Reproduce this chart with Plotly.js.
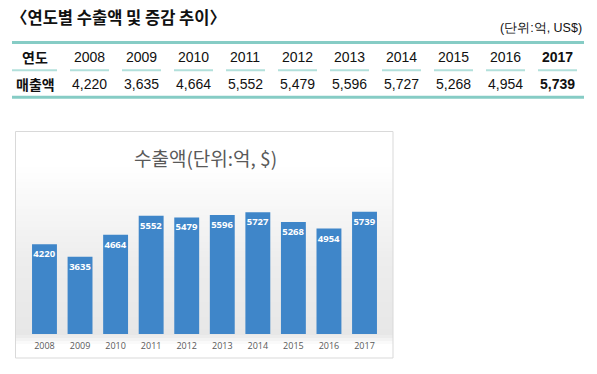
<!DOCTYPE html>
<html><head><meta charset="utf-8">
<script src="https://cdn.plot.ly/plotly-3.0.1.min.js"></script>
<style>html,body{margin:0;padding:0;background:#fff;}#chart{width:597px;height:374px;}</style>
</head><body><div id="chart"></div>
<script>
// ---- data ----
var years = ['2008','2009','2010','2011','2012','2013','2014','2015','2016','2017'];
var exportsVal = [4220, 3635, 4664, 5552, 5479, 5596, 5727, 5268, 4954, 5739];
var headerLabel = '연도';
var rowLabel = '매출액';
var pageTitle = '〈연도별 수출액 및 증감 추이〉';
var unitNote = '(단위:억, US$)';
var chartTitle = '수출액(단위:억, $)';

// ---- layout helpers (pixel -> paper) ----
var W = 597, H = 374;
function px(x){ return x / W; }
function py(y){ return 1 - y / H; }

var KR = '"Noto Sans CJK KR", "Noto Sans", sans-serif';
var NUM = '"Liberation Sans Narrow", "Liberation Sans", Arial, sans-serif';

var annotations = [];
var shapes = [];

// page title
annotations.push({xref:'paper', yref:'paper', x:px(9), y:py(17), xanchor:'left', yanchor:'middle',
  text:'<b>'+pageTitle+'</b>', showarrow:false, font:{family:KR, size:16.5, color:'#111'}});
annotations.push({xref:'paper', yref:'paper', x:px(584), y:py(28), xanchor:'right', yanchor:'middle',
  text:unitNote, showarrow:false, font:{family:NUM, size:12.5, color:'#111', stretch:'condensed'}});

// table
var hdrX = 35, firstX = 89, step = 52, row1Y = 57, row2Y = 84;
annotations.push({xref:'paper', yref:'paper', x:px(hdrX), y:py(row1Y), xanchor:'center', yanchor:'middle',
  text:'<b>'+headerLabel+'</b>', showarrow:false, font:{family:KR, size:14, color:'#111'}});
annotations.push({xref:'paper', yref:'paper', x:px(hdrX), y:py(row2Y), xanchor:'center', yanchor:'middle',
  text:'<b>'+rowLabel+'</b>', showarrow:false, font:{family:KR, size:14, color:'#111'}});
years.forEach(function(yr, i){
  var cx = firstX + step * i;
  var last = (i === years.length - 1);
  var v = exportsVal[i].toLocaleString('en-US');
  annotations.push({xref:'paper', yref:'paper', x:px(cx), y:py(row1Y), xanchor:'center', yanchor:'middle',
    text: last ? '<b>'+yr+'</b>' : yr, showarrow:false, font:{family:NUM, size:14, color:'#111', stretch:'condensed'}});
  annotations.push({xref:'paper', yref:'paper', x:px(cx), y:py(row2Y), xanchor:'center', yanchor:'middle',
    text: last ? '<b>'+v+'</b>' : v, showarrow:false, font:{family:NUM, size:14, color:'#111', stretch:'condensed'}});
  shapes.push({type:'line', xref:'paper', yref:'paper', x0:px(cx-19), x1:px(cx+20), y0:py(70.3), y1:py(70.3),
    line:{color:'#b2e0db', width:2}});
});
shapes.push({type:'line', xref:'paper', yref:'paper', x0:px(12), x1:px(57), y0:py(70.3), y1:py(70.3),
  line:{color:'#b2e0db', width:2}});
shapes.push({type:'line', xref:'paper', yref:'paper', x0:px(12), x1:px(584), y0:py(42.5), y1:py(42.5),
  line:{color:'#86ccc5', width:3}});
shapes.push({type:'line', xref:'paper', yref:'paper', x0:px(12), x1:px(584), y0:py(97.3), y1:py(97.3),
  line:{color:'#86ccc5', width:3}});

// chart box background: smooth vertical gradient built from thin bands
function shade(y){
  if (y < 165) return 255;
  if (y < 260) return Math.round(255 - (y - 165) / 95 * 18);
  if (y < 334) return Math.round(237 - (y - 260) / 74 * 6);
  if (y < 345) return Math.round(231 + (y - 334) / 11 * 24);
  return 255;
}
for (var yy = 131; yy < 358; yy += 3) {
  var g = shade(yy + 1.5);
  shapes.push({type:'rect', xref:'paper', yref:'paper', x0:px(15.5), x1:px(393), y0:py(Math.min(yy + 3, 358)), y1:py(yy),
    fillcolor:'rgb('+g+','+g+','+g+')', line:{width:0}, layer:'below'});
}
shapes.push({type:'rect', xref:'paper', yref:'paper', x0:px(15.5), x1:px(393), y0:py(358), y1:py(131.5),
  fillcolor:'rgba(0,0,0,0)', line:{color:'#d9d9d9', width:1}, layer:'above'});

annotations.push({xref:'paper', yref:'paper', x:px(205), y:py(157), xanchor:'center', yanchor:'middle',
  text:chartTitle, showarrow:false, font:{family:KR, size:19, color:'#595959'}});

var trace = {
  type:'bar', x: years, y: exportsVal,
  text: exportsVal.map(String), textposition:'inside', insidetextanchor:'end', textangle:0,
  textfont:{family:'"Open Sans", "DejaVu Sans", sans-serif', size:9.5, color:'#ffffff', weight:'bold'},
  constraintext:'none',
  marker:{color:'#3f86c9', line:{width:0}},
  hoverinfo:'none'
};

var layout = {
  width: W, height: H,
  margin:{l:0, r:0, t:0, b:0},
  paper_bgcolor:'rgba(0,0,0,0)', plot_bgcolor:'rgba(0,0,0,0)',
  showlegend:false,
  bargap:0.3,
  xaxis:{domain:[px(26.7), px(382.3)], type:'category', showgrid:false, zeroline:false, showline:false,
    ticks:'', ticklabelstandoff:5, tickfont:{family:'"Open Sans", "DejaVu Sans", sans-serif', size:9, color:'#595959'}},
  yaxis:{domain:[py(334), py(334 - 7000*0.02128)], range:[0, 7000], visible:false, showgrid:false, zeroline:false},
  annotations: annotations,
  shapes: shapes
};

Plotly.newPlot('chart', [trace], layout, {displayModeBar:false, staticPlot:true});
</script>
</body></html>
